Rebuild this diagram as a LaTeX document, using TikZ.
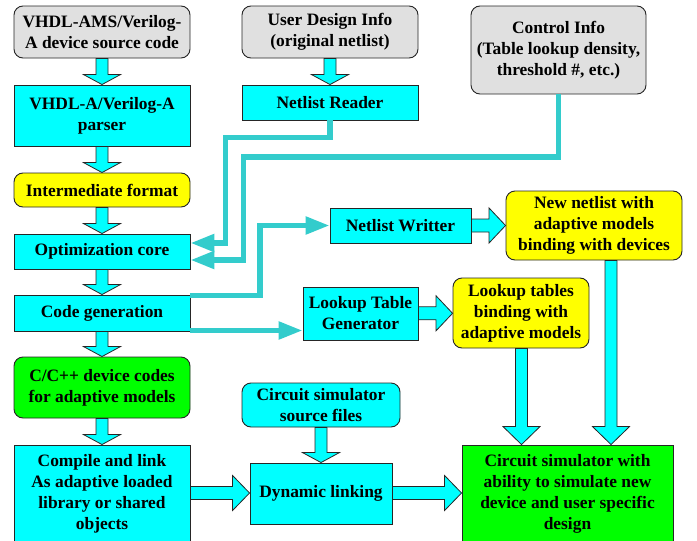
\documentclass[tikz,border=0pt]{standalone}
\usepackage{fontspec}
\setmainfont{Liberation Serif}
\usetikzlibrary{calc,arrows.meta}
\definecolor{cy}{HTML}{00FFFF}
\definecolor{yl}{HTML}{FFFF00}
\definecolor{gr}{HTML}{00FF00}
\definecolor{gy}{HTML}{E0E0E0}
\definecolor{teal2}{HTML}{33CCCC}
\tikzset{
  box/.style={draw=black!85, line width=0.9pt, align=center, inner sep=0pt,
    font=\fontsize{17.4}{21}\selectfont\bfseries},
  rbox/.style={box, rounded corners=9pt},
  graybox/.style={rbox, fill=gy},
  cyanbox/.style={box, fill=cy},
  cyanrbox/.style={rbox, fill=cy},
  yellowbox/.style={rbox, fill=yl},
  greenrbox/.style={rbox, fill=gr},
  greenbox/.style={box, fill=gr},
  blockarrow/.style={draw=black!85, line width=0.8pt, fill=cy, line join=miter},
  conn/.style={draw=teal2, line width=5.3pt, line join=miter,
    -{Triangle[length=24pt,width=17pt]}},
}
\newcommand\varrow[4]{%
  \coordinate (vx) at (#3,0);
  \draw[blockarrow] ($(vx|-#1.south)+(-6,0)$) -- ($(vx|-#1.south)+(6,0)$)
    -- ($(vx|-#2.north)+(6,-#4)$) -- ($(vx|-#2.north)+(18.5,-#4)$)
    -- (vx|-#2.north) -- ($(vx|-#2.north)+(-18.5,-#4)$)
    -- ($(vx|-#2.north)+(-6,-#4)$) -- cycle;}
\newcommand\harrow[4]{%
  \coordinate (hy) at (0,#3);
  \draw[blockarrow] ($(#1.east|-hy)+(0,-6.5)$) -- ($(#2.west|-hy)+(-#4,-6.5)$)
    -- ($(#2.west|-hy)+(-#4,-17.5)$) -- (#2.west|-hy)
    -- ($(#2.west|-hy)+(-#4,17.5)$) -- ($(#2.west|-hy)+(-#4,6.5)$)
    -- ($(#1.east|-hy)+(0,6.5)$) -- cycle;}
\begin{document}
\begin{tikzpicture}[x=1pt,y=-1pt]
\useasboundingbox[fill=white] (0,0) rectangle (697,541);
% nodes
\node[graybox, minimum width=176pt, minimum height=52pt] (src) at (102,32) {VHDL-AMS/Verilog-\\A device source code};
\node[graybox, minimum width=176pt, minimum height=52pt] (user) at (330,32) {User Design Info\\(original netlist)};
\node[graybox, minimum width=175pt, minimum height=88pt] (ctrl) at (558.5,50) {Control Info\\(Table lookup density,\\threshold \#, etc.)};
\node[cyanbox, minimum width=176pt, minimum height=61pt] (parser) at (102,115.5) {VHDL-A/Verilog-A\\parser};
\node[cyanbox, minimum width=176pt, minimum height=35pt] (reader) at (330,102.5) {Netlist Reader};
\node[yellowbox, minimum width=176pt, minimum height=34pt] (inter) at (102,190) {Intermediate format};
\node[cyanbox, minimum width=176pt, minimum height=35pt] (opt) at (102,251.5) {Optimization core};
\node[cyanbox, minimum width=141pt, minimum height=35pt] (writer) at (400.5,225.5) {Netlist Writter};
\node[yellowbox, minimum width=176pt, minimum height=69pt] (newnet) at (594,225.5) {New netlist with\\adaptive models\\binding with devices};
\node[cyanbox, minimum width=176pt, minimum height=36pt] (cg) at (102,313) {Code generation};
\node[cyanbox, minimum width=115pt, minimum height=53pt] (ltg) at (360.5,313.5) {Lookup Table\\Generator};
\node[yellowbox, minimum width=136pt, minimum height=70pt] (lut) at (521,313) {Lookup tables\\binding with\\adaptive models};
\node[greenrbox, minimum width=176pt, minimum height=61pt] (cc) at (102,387.5) {C/C++ device codes\\for adaptive models};
\node[cyanrbox, minimum width=158pt, minimum height=44pt] (simsrc) at (321,405) {Circuit simulator\\source files};
\node[cyanbox, minimum width=176pt, minimum height=97pt] (compile) at (102,493.5) {Compile and link\\As adaptive loaded\\library or shared\\objects};
\node[cyanbox, minimum width=142pt, minimum height=61pt] (dyn) at (321,493.5) {Dynamic linking};
\node[greenbox, minimum width=211pt, minimum height=97pt] (csim) at (567.5,493.5) {Circuit simulator with\\ability to simulate new\\device and user specific\\design};
% block arrows
\varrow{src}{parser}{102}{10}
\varrow{user}{reader}{330}{10}
\varrow{parser}{inter}{102}{10}
\varrow{inter}{opt}{102}{10}
\varrow{opt}{cg}{102}{10}
\varrow{cg}{cc}{102}{10}
\varrow{cc}{compile}{102}{10}
\varrow{simsrc}{dyn}{321}{10}
\varrow{lut}{csim}{521.5}{18}
\varrow{newnet}{csim}{611}{18}
\harrow{writer}{newnet}{225.5}{16.5}
\harrow{ltg}{lut}{313.3}{16.5}
\harrow{compile}{dyn}{493}{17}
\harrow{dyn}{csim}{493}{17}
% connectors
\coordinate (a1) at (225.5,137.5);
\coordinate (a2) at (0,243);
\draw[conn] (reader.south) |- (a1) |- (opt.east|-a2);
\coordinate (b1) at (243.5,157);
\coordinate (b2) at (0,260);
\draw[conn] (ctrl.south) |- (b1) |- (opt.east|-b2);
\coordinate (c1) at (0,295.5);
\coordinate (c2) at (260,0);
\draw[conn] (cg.east|-c1) -| (c2|-writer.west) -- (writer.west);
\coordinate (d1) at (0,330.5);
\draw[conn] (cg.east|-d1) -- (ltg.west|-d1);
\end{tikzpicture}
\end{document}
